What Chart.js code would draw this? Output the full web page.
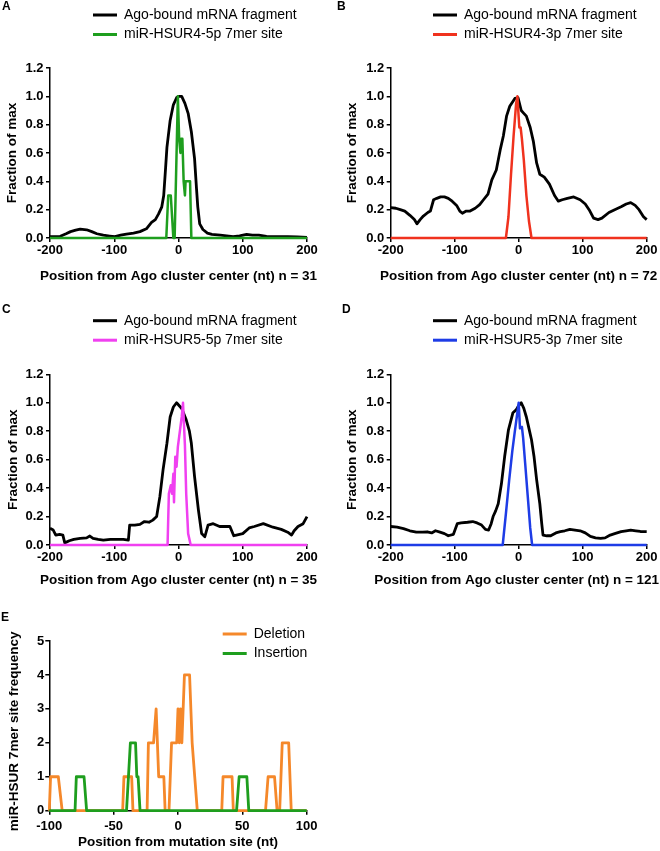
<!DOCTYPE html>
<html>
<head>
<meta charset="utf-8">
<script src="https://cdn.jsdelivr.net/npm/chart.js@4.4.0/dist/chart.umd.min.js"></script>
<style>
  html, body { margin: 0; padding: 0; background: #fff; }
  #wrap { position: relative; width: 660px; height: 851px; overflow: hidden; }
  #wrap canvas { position: absolute; }
</style>
</head>
<body>
<div id="wrap">
  <canvas id="chartA" width="330" height="290" style="left:0px;top:0px"></canvas>
  <canvas id="chartB" width="330" height="290" style="left:330px;top:0px"></canvas>
  <canvas id="chartC" width="330" height="300" style="left:0px;top:296px"></canvas>
  <canvas id="chartD" width="330" height="300" style="left:330px;top:296px"></canvas>
  <canvas id="chartE" width="330" height="261" style="left:0px;top:590px"></canvas>
</div>
<script>
// ---- data ----
// A: miR-HSUR4-5p, n = 31
const agoPosA = [-200,-190,-184,-175,-168,-160,-153,-143,-135,-127,-117,-107,-99,-90,-81,-70,-60,-50,-42,-36,-31,-26,-23,-20,-18,-13,-8,-3,0,5,10,15,20,25,28,30,33,38,45,52,65,75,85,95,106,115,125,137,150,170,185,200];
const agoValA = [0.01,0.01,0.012,0.03,0.045,0.055,0.062,0.058,0.045,0.03,0.02,0.014,0.01,0.02,0.028,0.035,0.045,0.065,0.11,0.13,0.17,0.22,0.3,0.5,0.64,0.83,0.94,0.99,1.0,1.0,0.95,0.88,0.75,0.56,0.35,0.22,0.1,0.06,0.035,0.025,0.02,0.015,0.01,0.015,0.025,0.02,0.02,0.012,0.01,0.01,0.008,0.005];
const sitePosA = [-200,-19,-16,-12,-8,-6,-1,1,3,4,6,8,10,11,13,18,20,200];
const siteValA = [0,0,0.3,0.3,0,0,1.0,0.7,0.6,0.7,0.7,0.4,0.3,0.4,0.4,0.4,0,0];

// B: miR-HSUR4-3p, n = 72
const agoPosB = [-200,-192,-185,-178,-170,-163,-159,-154,-149,-142,-138,-133,-128,-122,-116,-110,-104,-97,-92,-88,-82,-76,-68,-61,-55,-48,-42,-35,-29,-24,-19,-14,-6,-1,4,8,12,18,23,28,33,40,48,56,62,68,76,86,96,104,110,117,124,130,141,150,160,168,175,182,188,195,200];
const agoValB = [0.215,0.21,0.2,0.19,0.16,0.13,0.1,0.13,0.155,0.18,0.19,0.27,0.28,0.29,0.29,0.28,0.26,0.23,0.19,0.175,0.19,0.19,0.21,0.235,0.27,0.31,0.41,0.48,0.62,0.72,0.86,0.93,0.985,0.99,0.9,0.88,0.86,0.78,0.68,0.53,0.45,0.43,0.38,0.3,0.26,0.27,0.28,0.29,0.27,0.24,0.2,0.14,0.13,0.14,0.18,0.2,0.22,0.24,0.25,0.23,0.2,0.15,0.13];
const sitePosB = [-200,-20,-16,-12,-8,-4,-2,0,1,3,5,8,12,16,20,200];
const siteValB = [0,0,0.15,0.45,0.72,0.95,1.0,0.85,0.78,0.78,0.7,0.55,0.3,0.12,0,0];

// C: miR-HSUR5-5p, n = 35
const agoPosC = [-200,-195,-191,-185,-180,-177,-170,-163,-153,-143,-138,-133,-125,-117,-106,-96,-86,-78,-76,-68,-60,-53,-46,-40,-34,-29,-24,-18,-13,-8,-3,5,12,17,20,25,31,36,41,46,54,64,72,80,86,90,100,110,118,132,147,160,170,176,180,186,194,200];
const agoValC = [0.117,0.105,0.07,0.075,0.07,0.015,0.03,0.04,0.047,0.05,0.063,0.047,0.04,0.035,0.04,0.04,0.04,0.035,0.14,0.14,0.145,0.165,0.16,0.175,0.2,0.34,0.53,0.715,0.9,0.97,1.0,0.96,0.88,0.8,0.715,0.48,0.246,0.08,0.058,0.14,0.15,0.13,0.13,0.13,0.065,0.07,0.08,0.12,0.13,0.15,0.125,0.11,0.09,0.07,0.1,0.13,0.15,0.2];
const sitePosC = [-200,-17,-15,-12,-10,-8,-7,-5,-3,-1,1,5,7,10,12,15,19,200];
const siteValC = [0,0,0.36,0.42,0.36,0.5,0.3,0.62,0.55,0.69,0.76,0.9,1.0,0.7,0.36,0.08,0,0];

// D: miR-HSUR5-3p, n = 121
const agoPosD = [-200,-190,-180,-170,-160,-150,-143,-136,-130,-123,-116,-110,-102,-96,-90,-80,-72,-65,-58,-52,-47,-43,-40,-36,-32,-27,-22,-16,-9,-4,0,4,8,12,16,20,24,28,33,36,38,44,50,58,65,72,80,88,96,104,112,120,128,135,143,150,160,168,175,183,190,200];
const agoValD = [0.13,0.125,0.115,0.1,0.09,0.09,0.093,0.085,0.1,0.09,0.08,0.065,0.075,0.15,0.155,0.16,0.165,0.155,0.14,0.11,0.105,0.15,0.2,0.24,0.29,0.43,0.62,0.81,0.93,0.95,0.98,1.0,0.96,0.9,0.82,0.74,0.62,0.46,0.29,0.15,0.07,0.065,0.065,0.085,0.094,0.1,0.11,0.105,0.1,0.085,0.06,0.05,0.047,0.05,0.07,0.08,0.094,0.1,0.105,0.1,0.095,0.094];
const sitePosD = [-200,-25,-20,-15,-10,-6,-3,0,2,5,7,10,14,18,21,200];
const siteValD = [0,0,0.22,0.45,0.66,0.8,0.9,1.0,0.82,0.83,0.75,0.58,0.35,0.12,0,0];

// E: 7mer site frequency around indels
const delPos = [-100,-99,-93,-90,-43,-42,-36,-35,-24,-23,-19,-17,-15,-11,-10,-7,-5,-1,0,1,2,3,5,9,11,13,15,34,35,42,43,68,70,75,77,79,81,86,88,100];
const delFreq = [0,1,1,0,0,1,1,0,0,2,2,3,1,1,0,0,2,2,3,2,3,2,4,4,2,1,0,0,1,1,0,0,1,1,0,0,2,2,0,0];
const insPos = [-100,-80,-79,-73,-71,-40,-37,-33,-32,-31,-29.5,45.5,47.5,53.5,55,100];
const insFreq = [0,0,1,1,0,0,2,2,1,1,0,0,1,1,0,0];

const fracTicks = [0, 0.2, 0.4, 0.6, 0.8, 1.0, 1.2];
const freqTicks = [0, 1, 2, 3, 4, 5];

// ---- drawing ----
const FONT = '"Liberation Sans", Arial, Helvetica, sans-serif';
Chart.defaults.font.family = FONT;
Chart.defaults.color = '#000';

// panel letter, two-row legend and the axis titles (drawn at full width, not squeezed)
const decor = {
  id: 'decor',
  afterDraw(chart, args, o) {
    const ctx = chart.ctx;
    const area = chart.chartArea;
    ctx.save();
    ctx.fillStyle = '#000';
    ctx.textBaseline = 'middle';
    ctx.font = 'bold 12px ' + FONT;
    ctx.fillText(o.letter, o.letterX, o.letterY);

    ctx.font = '14px ' + FONT;
    chart.data.datasets.forEach((ds, i) => {
      const y = o.legendY + i * o.legendGap;
      ctx.strokeStyle = ds.borderColor;
      ctx.lineWidth = 3;
      ctx.beginPath();
      ctx.moveTo(o.legendX, y);
      ctx.lineTo(o.legendX + 24, y);
      ctx.stroke();
      ctx.fillText(ds.label, o.legendX + 31, y);
    });

    ctx.font = 'bold 13.5px ' + FONT;
    ctx.textAlign = 'center';
    ctx.fillText(o.xTitle, (area.left + area.right) / 2 + o.xTitleDx, area.bottom + o.xTitleDy);
    ctx.translate(o.yTitleX, (area.top + area.bottom) / 2 + o.yTitleDy);
    ctx.rotate(-Math.PI / 2);
    ctx.fillText(o.yTitle, 0, 0);
    ctx.restore();
  }
};

function pts(xs, ys) {
  return xs.map((x, i) => ({ x: x, y: ys[i] }));
}

function makePanel(id, p) {
  const g = p.geom;
  const datasets = p.series.map(s => ({
    label: s.label,
    data: pts(s.x, s.y),
    borderColor: s.color,
    backgroundColor: s.color,
    borderWidth: s.width,
    borderJoinStyle: 'round',
    pointRadius: 0,
    tension: 0,
    fill: false,
    clip: false,
    order: s.order
  }));
  return new Chart(document.getElementById(id), {
    type: 'line',
    data: { datasets: datasets },
    options: {
      responsive: false,
      animation: false,
      devicePixelRatio: 1,
      layout: { padding: { left: g.padL, right: g.padR, top: g.padT, bottom: 0 } },
      plugins: {
        legend: { display: false },
        tooltip: { enabled: false },
        decor: {
          letter: p.letter, letterX: g.letterX, letterY: g.letterY,
          legendX: g.legX, legendY: g.legY, legendGap: 19.5,
          xTitle: p.xTitle, xTitleDy: g.xTitleDy, xTitleDx: g.xTitleDx || 0,
          yTitle: p.yTitle, yTitleX: g.yTitleX, yTitleDy: g.yTitleDy || 0
        }
      },
      scales: {
        x: {
          type: 'linear',
          min: p.xMin, max: p.xMax,
          ticks: { stepSize: p.xStep, padding: g.xTickPad, maxRotation: 0, color: '#000', font: { size: 13, weight: 'bold' } },
          grid: { drawOnChartArea: false, drawTicks: true, tickLength: 4, color: '#000', lineWidth: 1.5 },
          border: { display: true, color: '#000', width: 1.5 },
          afterFit(s) { s.height = g.xh; }
        },
        y: {
          type: 'linear',
          min: p.yTicks[0], max: p.yTicks[p.yTicks.length - 1],
          afterBuildTicks(s) { s.ticks = p.yTicks.map(v => ({ value: v })); },
          ticks: { padding: g.yTickPad, color: '#000', font: { size: 13, weight: 'bold' }, callback: v => p.yFmt(v) },
          grid: { drawOnChartArea: false, drawTicks: true, tickLength: 4, color: '#000', lineWidth: 1.5 },
          border: { display: true, color: '#000', width: 1.5 },
          afterFit(s) { s.width = g.yw; }
        }
      }
    },
    plugins: [decor]
  });
}

const BLACK = '#000000';
const fmt1 = v => Number(v).toFixed(1);
const fmt0 = v => String(Math.round(v));
const agoLabel = 'Ago-bound mRNA fragment';
const posTitle = 'Position from Ago cluster center (nt) n = ';

const geomLeft = { padL: 0, padR: 23, padT: 68, yw: 50, xh: 52, xTickPad: 1, yTickPad: 2.5, xTitleDy: 38, yTitleX: 12.5, letterX: 2, letterY: 7, legX: 93, legY: 15 };
const geomRight = { padL: 10, padR: 13.3, padT: 68, yw: 50.7, xh: 52, xTickPad: 1, yTickPad: 2.5, xTitleDy: 38, yTitleX: 22.5, letterX: 7, letterY: 7, legX: 103, legY: 15 };

makePanel('chartA', {
  letter: 'A', geom: geomLeft,
  xMin: -200, xMax: 200, xStep: 100, yTicks: fracTicks, yFmt: fmt1,
  xTitle: posTitle + '31', yTitle: 'Fraction of max',
  series: [
    { label: agoLabel, x: agoPosA, y: agoValA, color: BLACK, width: 2.8, order: 1 },
    { label: 'miR-HSUR4-5p 7mer site', x: sitePosA, y: siteValA, color: '#1e9e1e', width: 2.5, order: 0 }
  ]
});

makePanel('chartB', {
  letter: 'B', geom: geomRight,
  xMin: -200, xMax: 200, xStep: 100, yTicks: fracTicks, yFmt: fmt1,
  xTitle: posTitle + '72', yTitle: 'Fraction of max',
  series: [
    { label: agoLabel, x: agoPosB, y: agoValB, color: BLACK, width: 2.8, order: 1 },
    { label: 'miR-HSUR4-3p 7mer site', x: sitePosB, y: siteValB, color: '#f0321e', width: 2.5, order: 0 }
  ]
});

makePanel('chartC', {
  letter: 'C', geom: Object.assign({}, geomLeft, { padT: 78.3, xh: 51, xTitleDy: 35.5, yTitleX: 13, letterY: 13.5, legY: 24.7 }),
  xMin: -200, xMax: 200, xStep: 100, yTicks: fracTicks, yFmt: fmt1,
  xTitle: posTitle + '35', yTitle: 'Fraction of max',
  series: [
    { label: agoLabel, x: agoPosC, y: agoValC, color: BLACK, width: 2.8, order: 1 },
    { label: 'miR-HSUR5-5p 7mer site', x: sitePosC, y: siteValC, color: '#f040f0', width: 2.5, order: 0 }
  ]
});

makePanel('chartD', {
  letter: 'D', geom: Object.assign({}, geomRight, { padT: 78.3, xh: 51, xTitleDy: 35.5, xTitleDx: -2, letterX: 12, letterY: 13.5, legY: 24.7 }),
  xMin: -200, xMax: 200, xStep: 100, yTicks: fracTicks, yFmt: fmt1,
  xTitle: posTitle + '121', yTitle: 'Fraction of max',
  series: [
    { label: agoLabel, x: agoPosD, y: agoValD, color: BLACK, width: 2.8, order: 1 },
    { label: 'miR-HSUR5-3p 7mer site', x: sitePosD, y: siteValD, color: '#1e3ce6', width: 2.5, order: 0 }
  ]
});

makePanel('chartE', {
  letter: 'E',
  geom: { padL: 0, padR: 23.3, padT: 51, yw: 49.3, xh: 40.3, xTickPad: 3.5, yTickPad: 1, xTitleDy: 31.3, yTitleX: 14, yTitleDy: 5.5, letterX: 1, letterY: 28, legX: 222.7, legY: 44 },
  xMin: -100, xMax: 100, xStep: 50, yTicks: freqTicks, yFmt: fmt0,
  xTitle: 'Position from mutation site (nt)', yTitle: 'miR-HSUR 7mer site frequency',
  series: [
    { label: 'Deletion', x: delPos, y: delFreq, color: '#f5882a', width: 2.8, order: 1 },
    { label: 'Insertion', x: insPos, y: insFreq, color: '#1e9e1e', width: 2.8, order: 0 }
  ]
});
</script>
</body>
</html>
